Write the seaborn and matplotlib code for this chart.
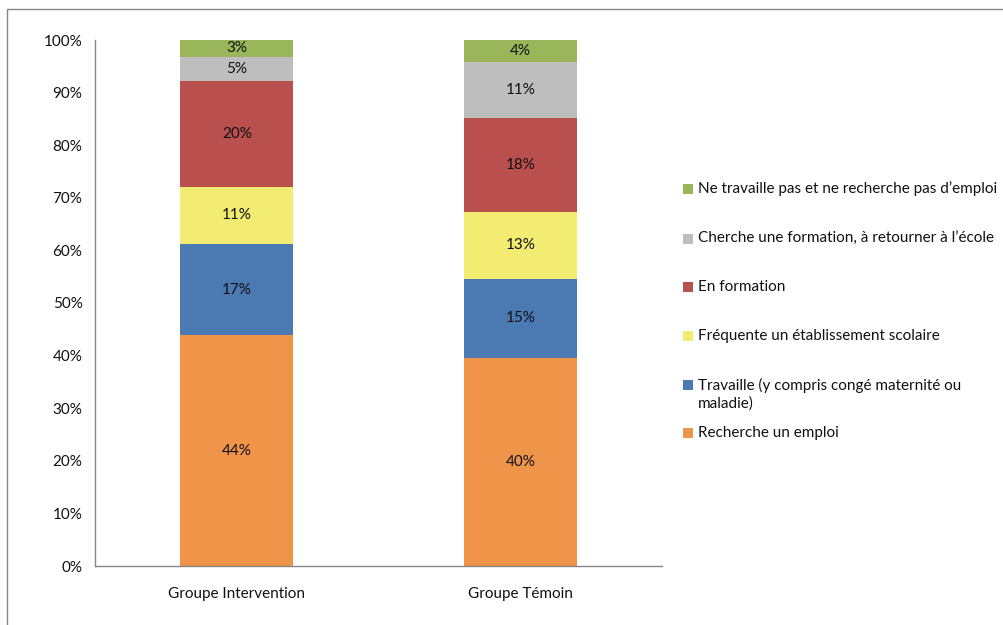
import matplotlib
matplotlib.use("Agg")
import matplotlib.pyplot as plt
import seaborn as sns
import numpy as np
from matplotlib.patches import Rectangle

# ---- data ----
groups = ["Groupe Intervention", "Groupe Témoin"]
categories = [
    "Recherche un emploi",
    "Travaille (y compris congé maternité ou\nmaladie)",
    "Fréquente un établissement scolaire",
    "En formation",
    "Cherche une formation, à retourner à l\u2019école",
    "Ne travaille pas et ne recherche pas d\u2019emploi",
]
recherche = [43.9, 39.6]
travaille = [17.3, 15.0]
frequente = [10.9, 12.7]
formation = [20.1, 17.9]
cherche = [4.6, 10.6]
ne_travaille = [3.2, 4.2]
yticks = [0, 10, 20, 30, 40, 50, 60, 70, 80, 90, 100]

colors = ["#EF9449", "#4B7AB3", "#F2EC72", "#BA504D", "#BEBEBE", "#9AB65A"]

series = [recherche, travaille, frequente, formation, cherche, ne_travaille]

sns.set_theme(style="white")
plt.rcParams["font.family"] = ["Lato", "DejaVu Sans"]

FS = 11
TXT = "#111111"

W, H = 1004, 625
fig = plt.figure(figsize=(W / 100, H / 100), dpi=100)
ax = fig.add_axes([95 / W, (H - 566) / H, (662 - 95) / W, (566 - 40) / H])

vals = np.array(series)
cum = np.cumsum(vals, axis=0)

# draw from top layer down so that lower layers overlay
for i in range(len(series) - 1, -1, -1):
    sns.barplot(x=groups, y=cum[i], color=colors[i], saturation=1,
                width=0.4, ax=ax, linewidth=0, zorder=2)

# segment labels
for i in range(len(series)):
    for j in range(len(groups)):
        bottom = cum[i][j] - vals[i][j]
        ax.text(j, bottom + vals[i][j] / 2, f"{vals[i][j]:.0f}%",
                ha="center", va="center", fontsize=FS, color=TXT, zorder=3)

ax.set_xlim(-0.5, 1.5)
ax.set_ylim(0, 100)
ax.set_yticks(yticks)
ax.set_yticklabels([f"{t}%" for t in yticks], fontsize=FS, color=TXT)
ax.tick_params(axis="x", labelsize=FS, colors=TXT, length=0, pad=15)
ax.tick_params(axis="y", length=0, pad=9)
ax.set_xlabel("")
ax.set_ylabel("")
for s in ["top", "right"]:
    ax.spines[s].set_visible(False)
for s in ["left", "bottom"]:
    ax.spines[s].set_color("#868686")
    ax.spines[s].set_linewidth(1)

# legend (manual, Excel-like layout)
leg_y = [189, 239, 287, 336, 385, 433]
order = [5, 4, 3, 2, 1, 0]
for yy, idx in zip(leg_y, order):
    fig.patches.append(Rectangle((683 / W, (H - yy - 5) / H), 10 / W, 10 / H,
                                 transform=fig.transFigure, facecolor=colors[idx],
                                 edgecolor="none"))
    lab = categories[idx]
    if "\n" in lab:
        fig.text(698 / W, (H - yy + 7) / H, lab, ha="left", va="top", fontsize=FS,
                 color=TXT, linespacing=1.3)
    else:
        fig.text(698 / W, (H - yy) / H, lab, ha="left", va="center", fontsize=FS,
                 color=TXT)

# outer chart border
fig.patches.append(Rectangle((7 / W, -0.05), 1.2, 1.05 - 9 / H, transform=fig.transFigure,
                             facecolor="none", edgecolor="#868686", linewidth=1))

fig.savefig("out.png", dpi=100)
